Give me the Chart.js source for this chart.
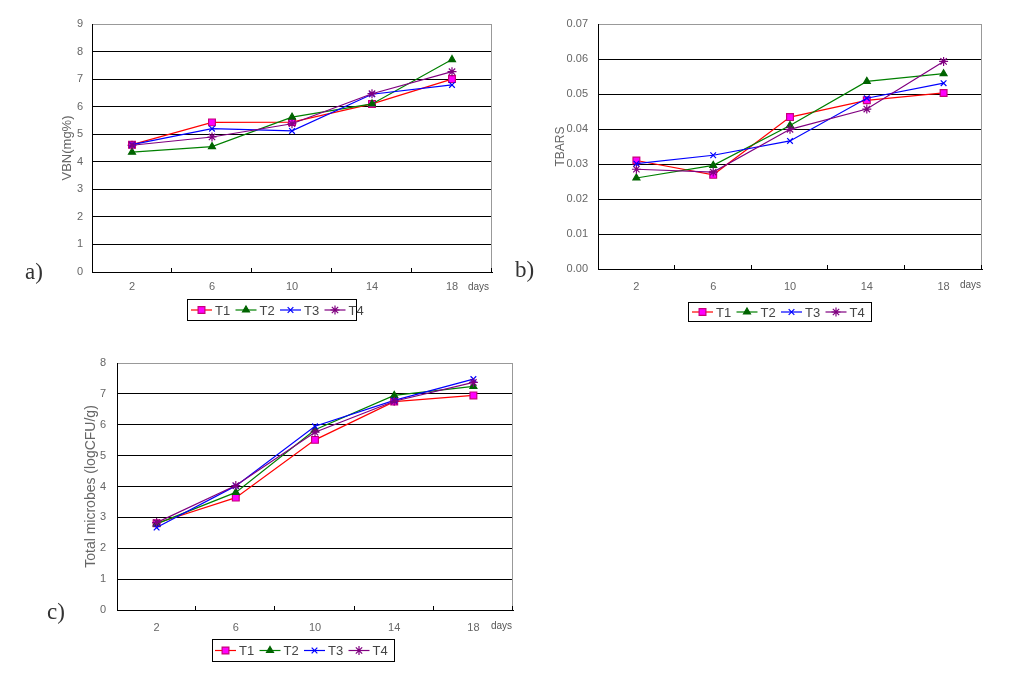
<!DOCTYPE html>
<html>
<head>
<meta charset="utf-8">
<script src="https://cdn.jsdelivr.net/npm/chart.js@4.4.1/dist/chart.umd.min.js"></script>
<style>
  body { margin: 0; background: #fff; }
  #wrap { position: relative; width: 1028px; height: 675px; overflow: hidden; }
  canvas { position: absolute; }
  .tag { position: absolute; font-family: "Liberation Serif", serif; font-size: 23px; line-height: 26px; color: #333; }
  .days { position: absolute; font-family: "Liberation Sans", Arial, sans-serif; font-size: 10px; line-height: 12px; color: #555; }
</style>
</head>
<body>
<div id="wrap">
  <canvas id="chartA" width="514" height="330" style="left:0;top:0"></canvas>
  <canvas id="chartB" width="514" height="330" style="left:514px;top:0"></canvas>
  <canvas id="chartC" width="540" height="345" style="left:0;top:330px"></canvas>
  <div class="tag" style="left:25px;top:259px">a)</div>
  <div class="tag" style="left:515px;top:257px">b)</div>
  <div class="tag" style="left:47px;top:599px">c)</div>
  <div class="days" style="left:468px;top:281px">days</div>
  <div class="days" style="left:960px;top:279px">days</div>
  <div class="days" style="left:491px;top:620px">days</div>
</div>
<script>
// sampling days
const days = ['2', '6', '10', '14', '18'];
const seriesNames = ['T1', 'T2', 'T3', 'T4'];

// a) VBN (mg%)
const vbnT1 = [4.62, 5.43, 5.44, 6.10, 7.00];
const vbnT2 = [4.35, 4.55, 5.62, 6.10, 7.71];
const vbnT3 = [4.62, 5.20, 5.12, 6.45, 6.79];
const vbnT4 = [4.60, 4.90, 5.38, 6.47, 7.27];
const vbnTicks = ['0', '1', '2', '3', '4', '5', '6', '7', '8', '9'];

// b) TBARS
const tbarsT1 = [0.0310, 0.0269, 0.0434, 0.0482, 0.0503];
const tbarsT2 = [0.0260, 0.0296, 0.0410, 0.0536, 0.0558];
const tbarsT3 = [0.0301, 0.0325, 0.0366, 0.0488, 0.0531];
const tbarsT4 = [0.0285, 0.0277, 0.0399, 0.0457, 0.0593];
const tbarsTicks = ['0.00', '0.01', '0.02', '0.03', '0.04', '0.05', '0.06', '0.07'];

// c) Total microbes (logCFU/g)
const microT1 = [2.81, 3.64, 5.51, 6.75, 6.95];
const microT2 = [2.79, 3.81, 5.84, 6.95, 7.24];
const microT3 = [2.67, 4.02, 5.95, 6.79, 7.48];
const microT4 = [2.83, 4.03, 5.76, 6.76, 7.37];
const microTicks = ['0', '1', '2', '3', '4', '5', '6', '7', '8'];

Chart.defaults.font.family = '"Liberation Sans", Arial, sans-serif';
Chart.defaults.animation = false;

const looks = [
    { line: '#ff0000', fill: '#ff00ff', edge: '#c8007a', style: 'rect', r: 4.8, order: 4 },
    { line: '#008000', fill: '#006400', edge: '#006400', style: 'triangle', r: 4, order: 3 },
    { line: '#0000ff', fill: '#0000ff', edge: '#0000ff', style: 'crossRot', r: 4, order: 2 },
    { line: '#800080', fill: '#800080', edge: '#800080', style: 'star', r: 4.5, order: 1 }
];

function makeDatasets(values) {
    return values.map((data, i) => ({
        label: seriesNames[i],
        data: data,
        borderColor: looks[i].line,
        borderWidth: 1.2,
        pointStyle: looks[i].style,
        pointRadius: looks[i].r,
        pointBackgroundColor: looks[i].fill,
        pointBorderColor: looks[i].edge,
        pointBorderWidth: 1.2,
        order: looks[i].order,
        fill: false,
        tension: 0
    }));
}

// gray right edge + small tick marks between the day categories
const frame = {
    id: 'frame',
    beforeDatasetsDraw(chart) {
        const { ctx, chartArea: a, scales: { x } } = chart;
        ctx.save();
        ctx.lineWidth = 1;
        ctx.strokeStyle = '#999';
        ctx.beginPath();
        ctx.moveTo(Math.round(a.right) - 0.5, a.top);
        ctx.lineTo(Math.round(a.right) - 0.5, a.bottom);
        ctx.stroke();
        const band = x.width / days.length;
        ctx.strokeStyle = '#000';
        for (let i = 1; i <= days.length; i++) {
            const px = Math.round(x.left + band * i) - 0.5;
            ctx.beginPath();
            ctx.moveTo(px, a.bottom);
            ctx.lineTo(px, a.bottom - 4);
            ctx.stroke();
        }
        ctx.restore();
    }
};

// boxed legend with line + marker samples
const boxLegend = {
    id: 'boxLegend',
    afterDraw(chart, args, opts) {
        const ctx = chart.ctx;
        ctx.save();
        ctx.lineWidth = 1;
        ctx.strokeStyle = '#000';
        ctx.strokeRect(opts.left + 0.5, opts.top + 0.5, opts.width, opts.height);
        const cy = opts.top + opts.height / 2 + 0.5;
        let x = opts.left + opts.padLeft;
        chart.data.datasets.forEach(ds => {
            ctx.strokeStyle = ds.borderColor;
            ctx.lineWidth = 1.2;
            ctx.beginPath();
            ctx.moveTo(x, cy);
            ctx.lineTo(x + 21, cy);
            ctx.stroke();
            ctx.fillStyle = ds.pointBackgroundColor;
            ctx.strokeStyle = ds.pointBorderColor;
            ctx.lineWidth = ds.pointBorderWidth;
            Chart.helpers.drawPoint(ctx, { pointStyle: ds.pointStyle, radius: ds.pointRadius, borderWidth: ds.pointBorderWidth, rotation: 0 }, x + 10.5, cy);
            ctx.fillStyle = '#444';
            ctx.font = '13px "Liberation Sans", Arial, sans-serif';
            ctx.textBaseline = 'middle';
            ctx.fillText(ds.label, x + 24, cy + 1);
            x += 44.5;
        });
        ctx.restore();
    }
};

function makeChart(id, o) {
    return new Chart(document.getElementById(id), {
        type: 'line',
        data: { labels: days, datasets: makeDatasets(o.values) },
        options: {
            responsive: false,
            layout: { padding: { left: 0, right: o.padRight, top: o.padTop, bottom: 0 } },
            plugins: {
                legend: { display: false },
                tooltip: { enabled: false },
                boxLegend: o.legend
            },
            scales: {
                x: {
                    type: 'category',
                    offset: true,
                    grid: { display: false, drawTicks: false },
                    border: { display: true, color: '#000', width: 1 },
                    ticks: { color: '#666', font: { size: 11 }, padding: o.xPad, maxRotation: 0, autoSkip: false },
                    afterFit: s => { s.height = o.xHeight; }
                },
                y: {
                    min: 0,
                    max: o.max,
                    ticks: {
                        stepSize: o.step,
                        color: '#666',
                        font: { size: 11 },
                        padding: o.yPad,
                        callback: (v, i) => o.tickLabels[i]
                    },
                    grid: {
                        color: c => (c.index === o.tickLabels.length - 1 ? '#999' : '#000'),
                        lineWidth: 1,
                        drawTicks: false
                    },
                    border: { color: '#000', width: 1 },
                    title: {
                        display: true,
                        text: o.title,
                        color: '#666',
                        font: { size: o.titleSize },
                        padding: { top: o.titleOffset, bottom: 0 }
                    },
                    afterFit: s => { s.width = o.yWidth; }
                }
            }
        },
        plugins: [frame, boxLegend]
    });
}

makeChart('chartA', {
    values: [vbnT1, vbnT2, vbnT3, vbnT4],
    max: 9, step: 1, tickLabels: vbnTicks,
    title: 'VBN(mg%)', titleSize: 13, titleOffset: 60,
    yWidth: 92, yPad: 9, xHeight: 58, xPad: 8,
    padTop: 24, padRight: 22,
    legend: { left: 187, top: 299, width: 169, height: 21, padLeft: 4 }
});

makeChart('chartB', {
    values: [tbarsT1, tbarsT2, tbarsT3, tbarsT4],
    max: 0.07, step: 0.01, tickLabels: tbarsTicks,
    title: 'TBARS', titleSize: 12, titleOffset: 39,
    yWidth: 84, yPad: 10, xHeight: 61, xPad: 11,
    padTop: 24, padRight: 46,
    legend: { left: 174, top: 302, width: 183, height: 19, padLeft: 4 }
});

makeChart('chartC', {
    values: [microT1, microT2, microT3, microT4],
    max: 8, step: 1, tickLabels: microTicks,
    title: 'Total microbes (logCFU/g)', titleSize: 14, titleOffset: 83,
    yWidth: 117, yPad: 11, xHeight: 65, xPad: 11,
    padTop: 33, padRight: 27,
    legend: { left: 212, top: 309, width: 182, height: 22, padLeft: 3 }
});
</script>
</body>
</html>
